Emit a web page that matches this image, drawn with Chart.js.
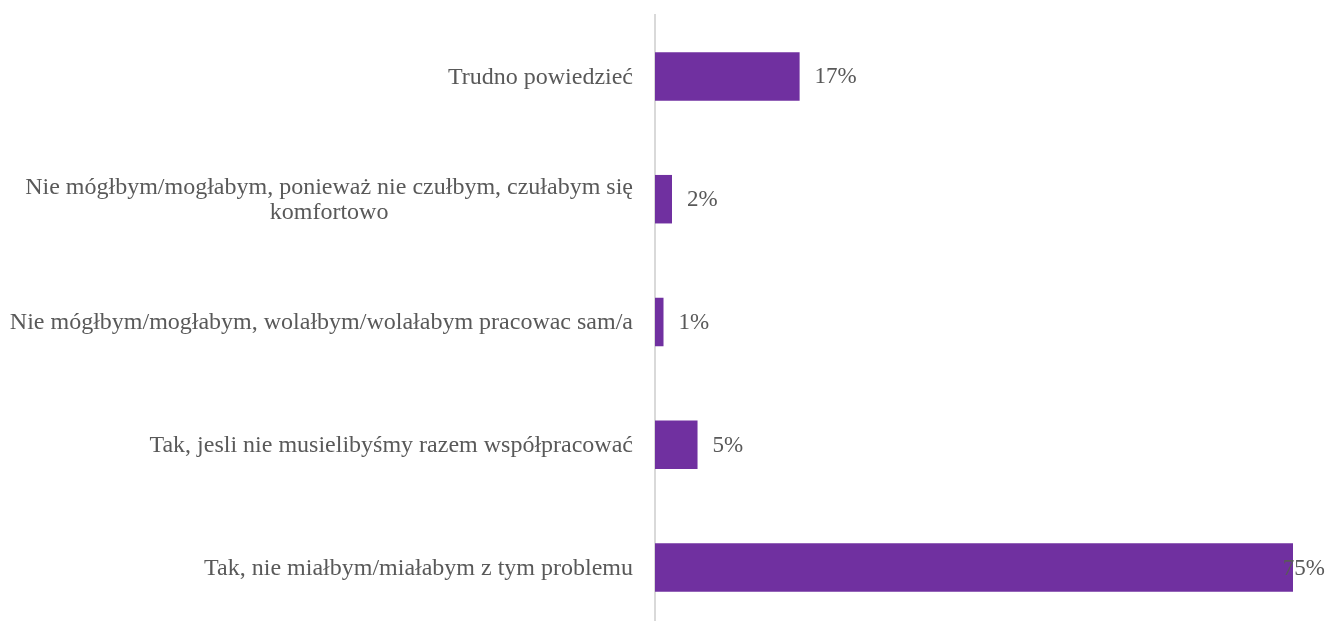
<!DOCTYPE html>
<html>
<head>
<meta charset="utf-8">
<script src="https://cdn.jsdelivr.net/npm/chart.js@4"></script>
<style>
  html, body { margin: 0; padding: 0; background: #fff; overflow: hidden; }
  #wrap { width: 1328px; height: 640px; position: relative; }
</style>
</head>
<body>
<div id="wrap"><canvas id="chart"></canvas></div>
<script>
const categories = [
  ['Trudno powiedzieć'],
  ['Nie mógłbym/mogłabym, ponieważ nie czułbym, czułabym się', 'komfortowo'],
  ['Nie mógłbym/mogłabym, wolałbym/wolałabym pracowac sam/a'],
  ['Tak, jesli nie musielibyśmy razem współpracować'],
  ['Tak, nie miałbym/miałabym z tym problemu']
];
const values = [17, 2, 1, 5, 75];
const valueLabels = ['17%', '2%', '1%', '5%', '75%'];

const CAT_FONT = '24px "Liberation Serif", "Times New Roman", serif';
const VAL_FONT = '23px "Liberation Serif", "Times New Roman", serif';
const TEXT = '#595959';

// category names on the left, value labels after each bar
const labelPlugin = {
  id: 'labels',
  afterDatasetsDraw(chart) {
    const { ctx } = chart;
    const yScale = chart.scales.y;
    const meta = chart.getDatasetMeta(0);
    ctx.save();
    ctx.fillStyle = TEXT;
    ctx.textBaseline = 'middle';
    ctx.font = CAT_FONT;
    const lineH = 25;
    categories.forEach((lines, i) => {
      const cy = yScale.getPixelForTick(i) + 1;
      const widest = Math.max(...lines.map(l => ctx.measureText(l).width));
      const cx = 633 - widest / 2;
      ctx.textAlign = 'center';
      lines.forEach((l, j) => {
        ctx.fillText(l, cx, cy + (j - (lines.length - 1) / 2) * lineH);
      });
    });
    ctx.font = VAL_FONT;
    ctx.textAlign = 'left';
    meta.data.forEach((bar, i) => {
      const w = ctx.measureText(valueLabels[i]).width;
      const x = Math.min(bar.x + 15, chart.width - w - 3);
      ctx.fillText(valueLabels[i], x, bar.y + 1);
    });
    ctx.restore();
  }
};

new Chart(document.getElementById('chart'), {
  type: 'bar',
  data: {
    labels: categories,
    datasets: [{
      data: values,
      backgroundColor: '#7030A0',
      borderWidth: 0,
      categoryPercentage: 1,
      barPercentage: 0.395
    }]
  },
  options: {
    indexAxis: 'y',
    responsive: true,
    maintainAspectRatio: false,
    animation: false,
    layout: { padding: { top: 15, right: 35, bottom: 11, left: 0 } },
    plugins: { legend: { display: false }, tooltip: { enabled: false } },
    scales: {
      x: { display: false, min: 0, max: 75 },
      y: {
        ticks: { display: false },
        grid: { display: false },
        border: { display: true, color: '#d9d9d9', width: 2 },
        afterFit(scale) { scale.width = 655; }
      }
    }
  },
  plugins: [labelPlugin]
});
</script>
</body>
</html>
